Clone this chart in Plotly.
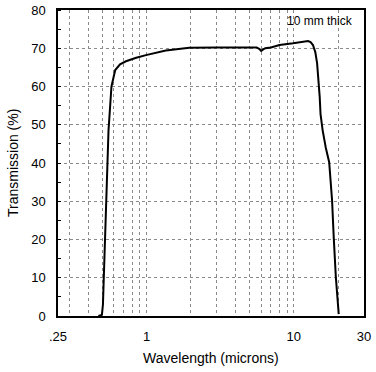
import plotly.graph_objects as go

wavelength = [0.47, 0.497, 0.505, 0.512, 0.52, 0.535, 0.551, 0.577, 0.612, 0.66, 0.724,
              0.85, 0.99, 1.35, 1.95, 3.0, 5.0, 5.6, 5.85, 6.0, 6.2, 6.4, 7.0, 8.0, 9.9,
              11.5, 12.5, 13.0, 13.5, 14.0, 14.4, 15.0, 15.2, 15.7, 16.5, 17.4, 17.8,
              18.2, 18.7, 19.3, 20.2]
transmission = [0.0, 0.3, 3.0, 10.0, 22.0, 35.0, 48.5, 60.0, 64.3, 65.8, 66.6,
                67.5, 68.2, 69.4, 70.1, 70.2, 70.2, 70.2, 69.8, 69.3, 69.7, 70.0, 70.2, 70.85, 71.3,
                71.7, 71.9, 71.6, 70.85, 69.0, 66.1, 57.3, 52.8, 48.6, 44.0, 40.2, 36.0,
                30.3, 20.3, 10.3, 0.5]

x_tick_vals = [0.25, 1, 10, 30]
x_tick_text = [".25", "1", "10", "30"]
x_minor_vals = [0.3, 0.4, 0.5, 0.6, 0.7, 0.8, 0.9, 2, 3, 4, 5, 6, 7, 8, 9, 20]
y_tick_vals = [0, 10, 20, 30, 40, 50, 60, 70, 80]

font_family = "Liberation Sans, Arial, sans-serif"
grid_col = "#8a8a8a"

fig = go.Figure()
fig.add_trace(go.Scatter(
    x=wavelength, y=transmission, mode="lines",
    line=dict(color="black", width=2),
    showlegend=False, hoverinfo="skip"))

fig.update_layout(
    width=376, height=372,
    margin=dict(l=58, r=12, t=10, b=56, autoexpand=False),
    paper_bgcolor="white", plot_bgcolor="white",
    font=dict(family=font_family, size=13, color="black"),
    xaxis=dict(
        type="log", range=[-0.60206, 1.4771213], automargin=False,
        tickmode="array", tickvals=x_tick_vals, ticktext=x_tick_text,
        showgrid=True, gridcolor=grid_col, griddash="dot", gridwidth=1,
        showline=True, linecolor="black", linewidth=1.5, mirror=True,
        ticks="", ticklabelstandoff=8, zeroline=False,
        minor=dict(tickmode="array", tickvals=x_minor_vals, showgrid=True,
                   gridcolor=grid_col, griddash="dot", gridwidth=1, ticks=""),
        tickfont=dict(size=13),
    ),
    yaxis=dict(
        range=[0, 80], tickmode="array", tickvals=y_tick_vals, automargin=False,
        showgrid=True, gridcolor=grid_col, griddash="dot", gridwidth=1,
        showline=True, linecolor="black", linewidth=1.5, mirror=True,
        ticks="", ticklabelstandoff=8, zeroline=False,
        minor=dict(dtick=5, ticks="inside", ticklen=3, tickcolor="black", showgrid=False),
        tickfont=dict(size=13),
    ),
    annotations=[
        dict(text="10 mm thick", xref="paper", yref="paper", x=0.97, y=0.995,
             xanchor="right", yanchor="top", showarrow=False,
             font=dict(size=12, family=font_family, color="black")),
        dict(text="Wavelength (microns)", xref="paper", yref="paper", x=0.5, y=0,
             yshift=-42, xanchor="center", yanchor="middle", showarrow=False,
             font=dict(size=14, family=font_family, color="black")),
        dict(text="Transmission (%)", xref="paper", yref="paper", x=0, y=0.5,
             xshift=-45, xanchor="center", yanchor="middle", showarrow=False, textangle=-90,
             font=dict(size=14, family=font_family, color="black")),
    ],
)

fig.write_html("out.html", config={"displayModeBar": False},
               post_script="document.body.style.margin='0';document.body.style.overflow='hidden';")
